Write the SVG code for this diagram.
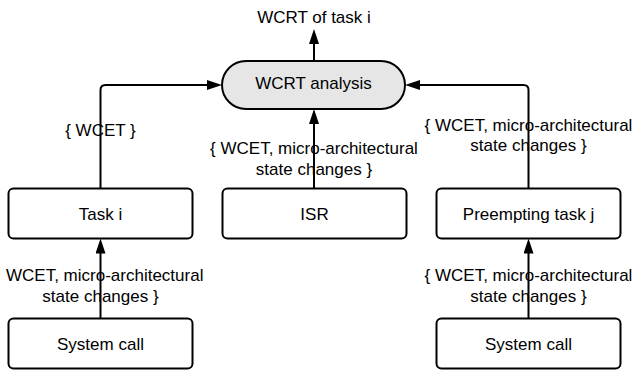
<svg xmlns="http://www.w3.org/2000/svg" width="634" height="371" viewBox="0 0 634 371">
<style>
.box{fill:#fff;stroke:#000;stroke-width:2}
.term{fill:#e6e6e6;stroke:#000;stroke-width:2}
.t{font-family:"Liberation Sans",Arial,sans-serif;font-size:17px;fill:#000;text-anchor:middle}
.c{fill:none;stroke:#000;stroke-width:2;marker-end:url(#ah)}
</style>
<defs>
<marker id="ah" markerUnits="userSpaceOnUse" markerWidth="15" markerHeight="10" viewBox="0 0 15 10" refX="10" refY="5" orient="auto"><path d="M0,0 L15,5 L0,10 z" fill="#000"/></marker>
</defs>
<rect width="634" height="371" fill="#fff"/>
<g id="connectors">
<path class="c" d="M314,61 L314,34"/>
<path class="c" d="M100.5,188.5 L100.5,90 Q100.5,85 105.5,85 L217,85"/>
<path class="c" d="M314,188.5 L314,114"/>
<path class="c" d="M528.5,188.5 L528.5,90 Q528.5,85 523.5,85 L410,85"/>
<path class="c" d="M100.5,318.5 L100.5,243.5"/>
<path class="c" d="M528.5,318.5 L528.5,243.5"/>
</g>
<g id="labels">
<text class="t" x="314" y="23">WCRT of task i</text>
<text class="t" x="100.5" y="136">{ WCET }</text>
<text class="t" x="314" y="154">{ WCET, micro-architectural</text>
<text class="t" x="314" y="174.5">state changes }</text>
<text class="t" x="528.5" y="130.5">{ WCET, micro-architectural</text>
<text class="t" x="528.5" y="151">state changes }</text>
<text class="t" x="6" y="281" style="text-anchor:start">WCET, micro-architectural</text>
<text class="t" x="100.5" y="301.5">state changes }</text>
<text class="t" x="528.5" y="281">{ WCET, micro-architectural</text>
<text class="t" x="528.5" y="301.5">state changes }</text>
</g>
<g id="wcrt-analysis">
<rect class="term" x="222" y="61" width="183" height="48" rx="24"/>
<text class="t" x="313.5" y="89">WCRT analysis</text>
</g>
<g id="task-i">
<rect class="box" x="8.5" y="188.5" width="184" height="50" rx="5"/>
<text class="t" x="100.5" y="219.5">Task i</text>
</g>
<g id="isr">
<rect class="box" x="222.5" y="188.5" width="184" height="50" rx="5"/>
<text class="t" x="314.5" y="219.5">ISR</text>
</g>
<g id="preempting-task-j">
<rect class="box" x="436.5" y="188.5" width="184" height="50" rx="5"/>
<text class="t" x="528.5" y="219.5">Preempting task j</text>
</g>
<g id="system-call-left">
<rect class="box" x="8.5" y="318.5" width="184" height="50" rx="5"/>
<text class="t" x="100.5" y="349.5">System call</text>
</g>
<g id="system-call-right">
<rect class="box" x="436.5" y="318.5" width="184" height="50" rx="5"/>
<text class="t" x="528.5" y="349.5">System call</text>
</g>
</svg>
